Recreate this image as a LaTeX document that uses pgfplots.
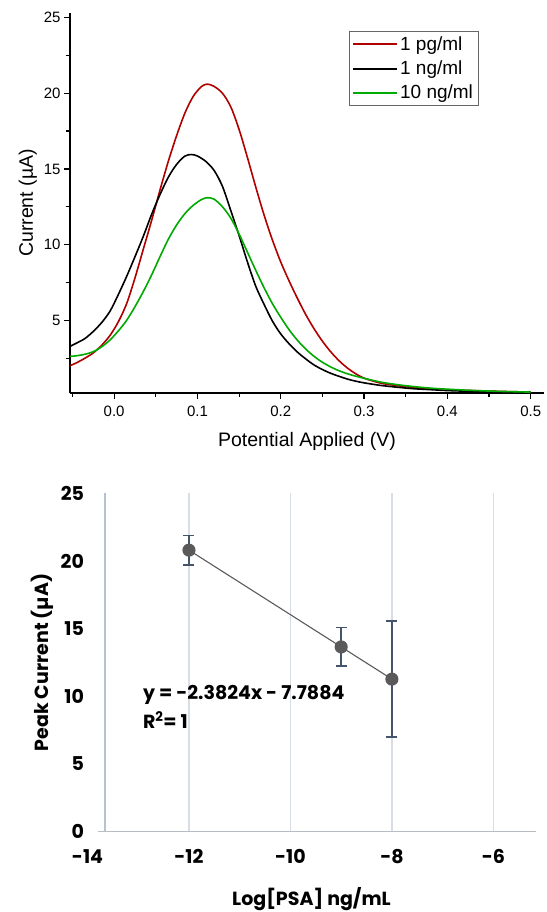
\documentclass[border=0pt]{standalone}
\usepackage{fontspec}
\setmainfont{Liberation Sans}
\newfontfamily\pop{Poppins}
\usepackage{pgfplots}
\pgfplotsset{compat=1.18}
\definecolor{cred}{RGB}{176,0,0}
\definecolor{cgreen}{RGB}{0,170,0}
\definecolor{gridc}{RGB}{217,222,229}
\definecolor{yaxc}{RGB}{180,195,210}
\definecolor{errc}{RGB}{68,84,106}
\definecolor{markc}{RGB}{90,90,90}
\begin{document}
\begin{tikzpicture}[x=1pt,y=1pt]
\path[use as bounding box] (0,0) rectangle (546,912);
% ---------------- top chart ----------------
\begin{axis}[
  at={(70pt,519pt)}, anchor=south west, scale only axis,
  width=474pt, height=380pt,
  xmin=-0.053, xmax=0.516, ymin=0.2, ymax=25.3,
  axis x line*=bottom, axis y line*=left,
  axis line style={line width=1.6pt,-},
  xtick={0,0.1,0.2,0.3,0.4,0.5}, xticklabels={0.0,0.1,0.2,0.3,0.4,0.5},
  minor xtick={-0.05,0.05,0.15,0.25,0.35,0.45},
  ytick={5,10,15,20,25}, yticklabels={5,10,15,20,25},
  minor ytick={2.5,7.5,12.5,17.5,22.5},
  tick align=outside, major tick length=6pt, minor tick length=4pt,
  every tick/.style={line width=1.2pt, black},
  ticklabel style={font=\fontsize{15}{18}\selectfont},
  xticklabel style={yshift=-4pt},
  xlabel={Potential Applied (V)}, ylabel={Current (µA)},
  label style={font=\fontsize{19.5}{23}\selectfont},
  xlabel style={yshift=-8pt},
  legend style={at={(0.588,0.952)}, anchor=north west, draw=black!60, line width=0.8pt,
    font=\fontsize{19}{22}\selectfont, inner xsep=3pt, inner ysep=3pt, row sep=5pt},
  legend cell align=left,
  legend image code/.code={\draw[#1, line width=2pt] (0pt,0pt) -- (44pt,0pt);},
  clip=false,
]
\addplot[cred, line width=1.6pt, smooth] coordinates {
(-0.053,2.0) (-0.045,2.2) (-0.035,2.5) (-0.025,2.85) (-0.015,3.35) (-0.005,4.0)
(0.005,4.9) (0.015,6.1) (0.025,7.8) (0.035,9.7) (0.045,11.6) (0.055,13.6)
(0.065,15.5) (0.075,17.2) (0.085,18.7) (0.095,19.8) (0.105,20.45) (0.112,20.6)
(0.12,20.45) (0.13,20.0) (0.14,19.1) (0.15,17.6) (0.16,15.75) (0.17,13.8)
(0.18,11.95) (0.19,10.3) (0.20,8.85) (0.21,7.6) (0.22,6.45) (0.23,5.38) (0.24,4.44)
(0.25,3.62) (0.26,2.92) (0.27,2.33) (0.28,1.85) (0.29,1.47) (0.30,1.18) (0.32,0.85)
(0.34,0.68) (0.36,0.56) (0.38,0.48) (0.40,0.42) (0.43,0.36) (0.46,0.31) (0.50,0.26)};
\addlegendentry{1 pg/ml}
\addplot[black, line width=1.6pt, smooth] coordinates {
(-0.053,3.28) (-0.045,3.5) (-0.035,3.8) (-0.025,4.27) (-0.015,4.85) (-0.005,5.6)
(0.005,6.7) (0.015,7.9) (0.025,9.2) (0.035,10.55) (0.045,12.0) (0.055,13.3)
(0.065,14.45) (0.075,15.3) (0.085,15.85) (0.093,15.95) (0.10,15.85) (0.11,15.5)
(0.12,14.9) (0.13,13.85) (0.14,12.25) (0.15,10.6) (0.16,8.85) (0.17,7.25)
(0.18,6.05) (0.19,4.95) (0.20,4.1) (0.21,3.45) (0.22,2.9) (0.23,2.45) (0.24,2.05)
(0.25,1.75) (0.26,1.5) (0.27,1.3) (0.28,1.12) (0.29,0.98) (0.30,0.87) (0.32,0.7)
(0.34,0.58) (0.36,0.48) (0.38,0.42) (0.40,0.36) (0.43,0.31) (0.46,0.28) (0.50,0.25)};
\addlegendentry{1 ng/ml}
\addplot[cgreen, line width=1.6pt, smooth] coordinates {
(-0.053,2.62) (-0.045,2.66) (-0.035,2.76) (-0.025,2.93) (-0.015,3.25) (-0.005,3.7)
(0.005,4.3) (0.015,5.0) (0.025,5.9) (0.035,6.9) (0.045,8.0) (0.055,9.2)
(0.065,10.35) (0.075,11.3) (0.085,12.05) (0.095,12.6) (0.105,12.98) (0.112,13.1)
(0.12,13.0) (0.13,12.5) (0.14,11.75) (0.15,10.7) (0.16,9.5) (0.17,8.3)
(0.18,7.15) (0.19,6.1) (0.20,5.2) (0.21,4.38) (0.22,3.68) (0.23,3.1) (0.24,2.62)
(0.25,2.23) (0.26,1.92) (0.27,1.67) (0.28,1.47) (0.29,1.31) (0.30,1.17) (0.32,0.92)
(0.34,0.75) (0.36,0.62) (0.38,0.52) (0.40,0.45) (0.43,0.37) (0.46,0.31) (0.50,0.26)};
\addlegendentry{10 ng/ml}
\end{axis}
% ---------------- bottom chart ----------------
\begin{axis}[
  at={(87.5pt,80.3pt)}, anchor=south west, scale only axis,
  width=448pt, height=338.4pt,
  xmin=-14, xmax=-5.17, ymin=0, ymax=25,
  axis line style={draw=none},
  major tick length=0pt,
  xtick={-12,-10,-8,-6}, 
  extra x ticks={-14}, extra x tick style={grid=none},
  xticklabels={-12,-10,-8,-6}, extra x tick labels={-14},
  ytick={0,5,10,15,20,25}, yticklabels={0,5,10,15,20,25},
  xmajorgrids, grid style={gridc, line width=1.2pt},
  ticklabel style={font=\pop\bfseries\fontsize{19}{22}\selectfont},
  xticklabel style={yshift=-14pt},
  xlabel={Log[PSA] ng/mL}, ylabel={Peak Current (µA)},
  label style={font=\pop\bfseries\fontsize{19}{22}\selectfont},
  xlabel style={yshift=-17pt},
  clip=false,
]
\draw[yaxc, line width=1.6pt] (axis cs:-13.66,0) -- (axis cs:-13.66,25);
\draw[gridc!85!black, line width=1.2pt] (axis cs:-13.79,0) -- (axis cs:-5.17,0);
\addplot[color=markc, line width=1.1pt, mark=*, mark size=6pt,
  mark options={fill=markc, draw=markc},
  error bars/.cd, y dir=both, y explicit,
  error bar style={errc, line width=1.5pt},
  error mark options={errc, rotate=90, mark size=5.5pt, line width=1.5pt}]
  coordinates {(-12,20.80) +- (0,1.08) (-9,13.65) +- (0,1.42) (-8,11.27) +- (0,4.28)};
\node[anchor=west, font=\pop\bfseries\fontsize{19}{22}\selectfont, inner sep=0pt] at (axis cs:-12.91,10.1) {y = -2.3824x - 7.7884};
\node[anchor=west, font=\pop\bfseries\fontsize{19}{22}\selectfont, inner sep=0pt] at (axis cs:-12.91,8.25) {R\textsuperscript{2}= 1};
\end{axis}
\end{tikzpicture}
\end{document}
